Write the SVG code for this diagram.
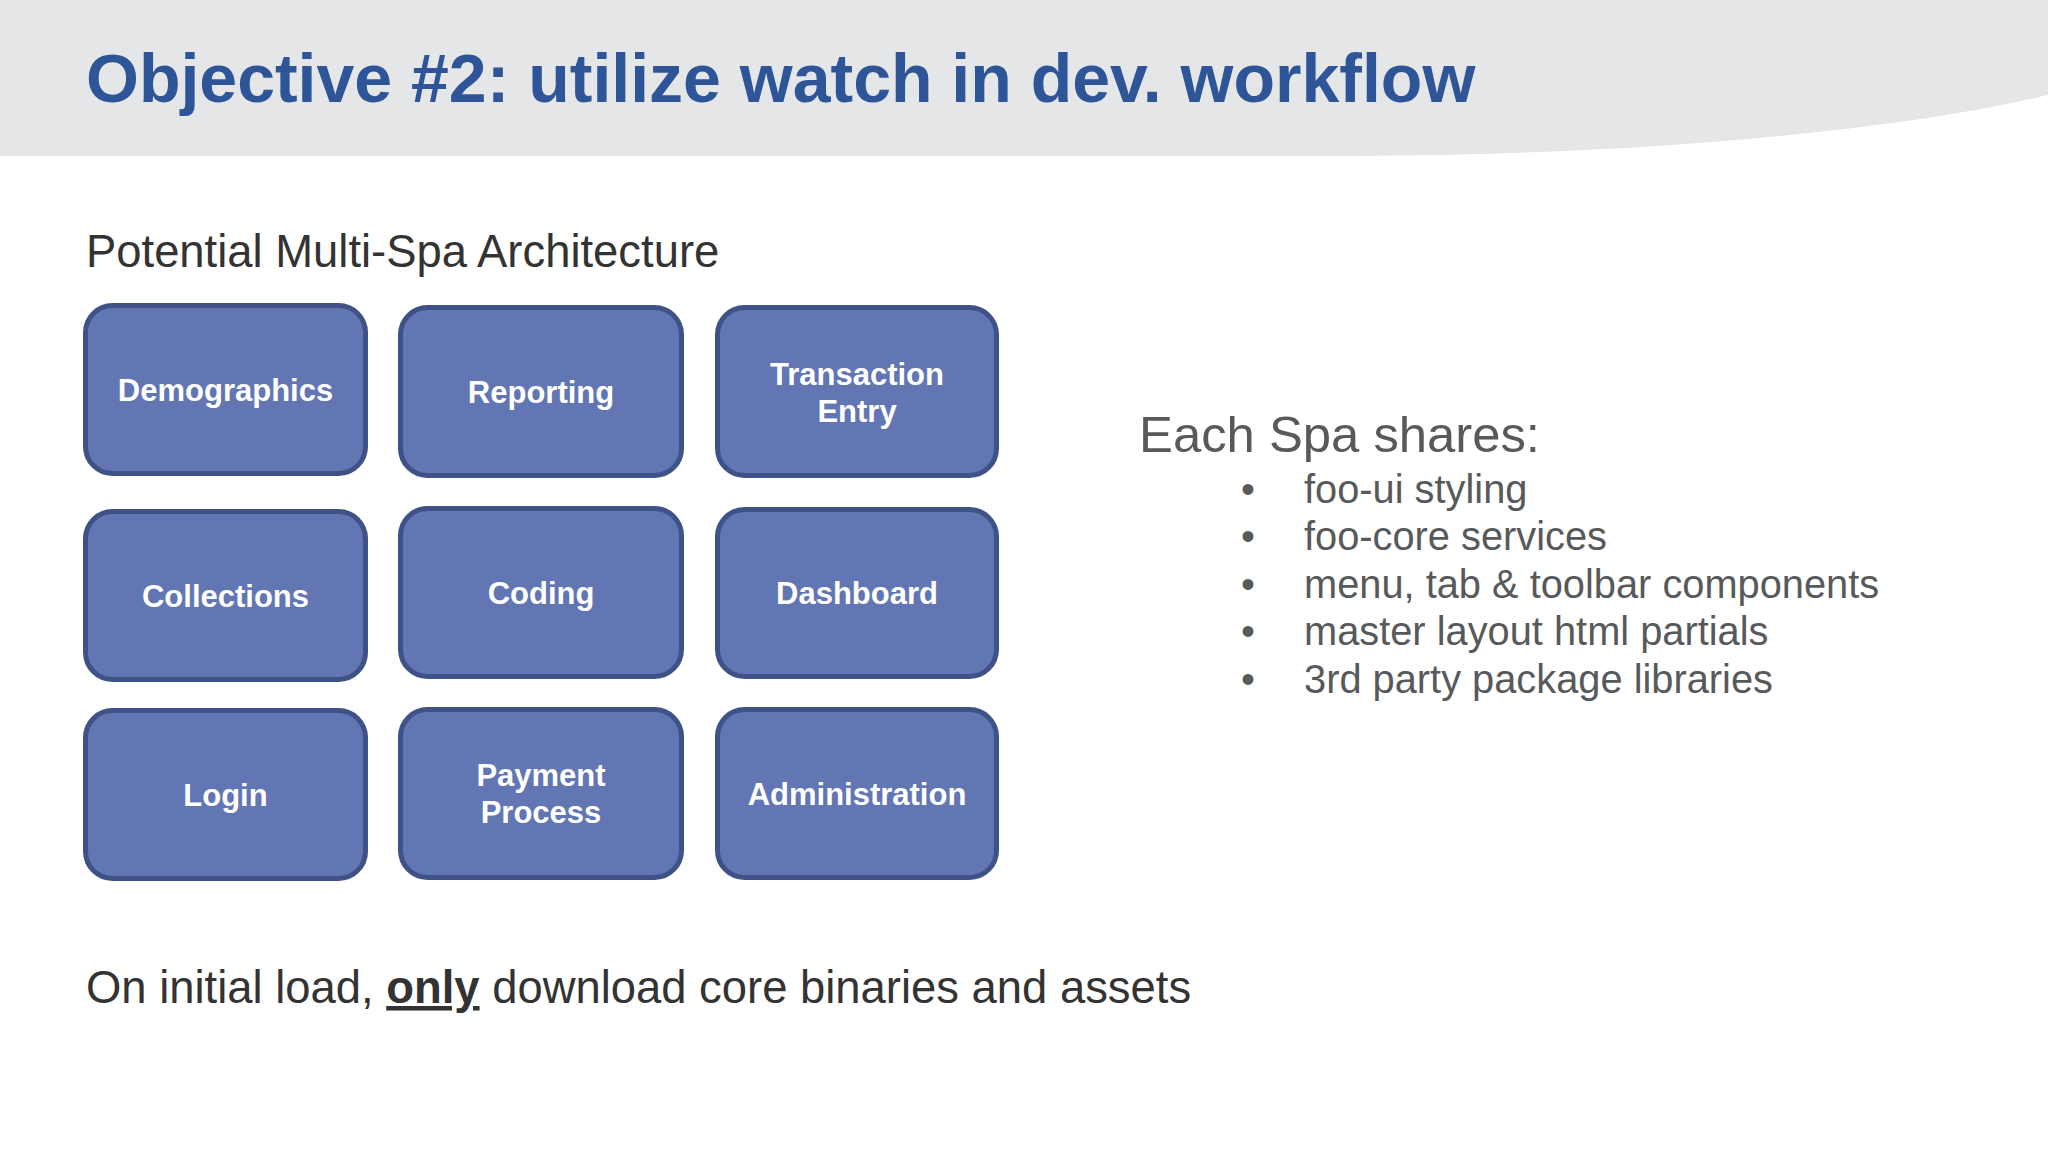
<svg xmlns="http://www.w3.org/2000/svg" width="2048" height="1152" viewBox="0 0 2048 1152">
<style>
.box{fill:#6176B3;stroke:#3F5287;stroke-width:5}
.lbl{font-family:"Liberation Sans",Arial,sans-serif;font-weight:bold;font-size:31px;fill:#FFFFFF;text-anchor:middle}
.title{font-family:"Liberation Sans",Arial,sans-serif;font-weight:bold;font-size:68px;fill:#2E5597}
.body{font-family:"Liberation Sans",Arial,sans-serif;font-size:45.4px;fill:#333333}
.side{font-family:"Liberation Sans",Arial,sans-serif;fill:#58595B}
</style>
<rect x="0" y="0" width="2048" height="1152" fill="#FFFFFF"/>
<path d="M0,0 H2048 V95 C1900,130 1650,155 1350,156 H0 Z" fill="#E5E6E8"/>
<text class="title" x="86" y="102">Objective #2: utilize watch in dev. workflow</text>
<text class="body" x="86" y="267">Potential Multi-Spa Architecture</text>

<g id="demographics"><rect class="box" x="85.5" y="305.5" width="280" height="168" rx="27"/><text class="lbl" x="225.5" y="400.5">Demographics</text></g>
<g id="reporting"><rect class="box" x="400.5" y="307.5" width="281" height="168" rx="27"/><text class="lbl" x="541" y="402.5">Reporting</text></g>
<g id="transaction-entry"><rect class="box" x="717.5" y="307.5" width="279" height="168" rx="27"/><text class="lbl" x="857" y="384.5">Transaction</text><text class="lbl" x="857" y="421.5">Entry</text></g>

<g id="collections"><rect class="box" x="85.5" y="511.5" width="280" height="168" rx="27"/><text class="lbl" x="225.5" y="606.5">Collections</text></g>
<g id="coding"><rect class="box" x="400.5" y="508.5" width="281" height="168" rx="27"/><text class="lbl" x="541" y="603.5">Coding</text></g>
<g id="dashboard"><rect class="box" x="717.5" y="509.5" width="279" height="167" rx="27"/><text class="lbl" x="857" y="604">Dashboard</text></g>

<g id="login"><rect class="box" x="85.5" y="710.5" width="280" height="168" rx="27"/><text class="lbl" x="225.5" y="805.5">Login</text></g>
<g id="payment-process"><rect class="box" x="400.5" y="709.5" width="281" height="168" rx="27"/><text class="lbl" x="541" y="786">Payment</text><text class="lbl" x="541" y="823">Process</text></g>
<g id="administration"><rect class="box" x="717.5" y="709.5" width="279" height="168" rx="27"/><text class="lbl" x="857" y="804.5">Administration</text></g>

<g id="connectors"></g>

<text class="side" x="1139" y="452" font-size="50.8">Each Spa shares:</text>
<g class="side" font-size="39.8">
<text x="1241" y="503">•</text><text x="1304" y="503">foo-ui styling</text>
<text x="1241" y="550">•</text><text x="1304" y="550">foo-core services</text>
<text x="1241" y="598">•</text><text x="1304" y="598">menu, tab &amp; toolbar components</text>
<text x="1241" y="645">•</text><text x="1304" y="645">master layout html partials</text>
<text x="1241" y="693">•</text><text x="1304" y="693">3rd party package libraries</text>
</g>

<text class="body" x="86" y="1003">On initial load, <tspan font-weight="bold" text-decoration="underline">only</tspan> download core binaries and assets</text>
</svg>
